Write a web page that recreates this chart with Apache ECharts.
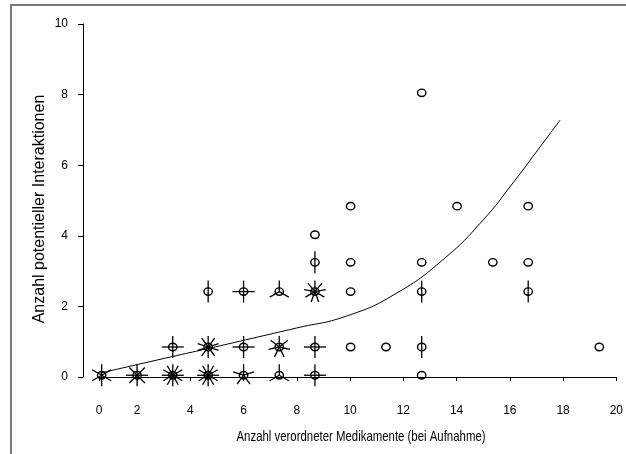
<!DOCTYPE html>
<html>
<head>
<meta charset="utf-8">
<script src="https://cdn.jsdelivr.net/npm/echarts@6/dist/echarts.min.js"></script>
<style>
  html, body { margin: 0; padding: 0; background: #fff; }
  #chart { width: 626px; height: 454px; }
</style>
</head>
<body>
<div id="chart"></div>
<script>
// Sunflower plot: each bin centre gets a circle, and a bin holding n > 1 cases gets n petals.
const sunX = [0.67, 2.0, 3.34, 3.34, 4.67, 4.67, 4.67, 6.0, 6.0, 6.0, 7.34, 7.34, 7.34,
              8.68, 8.68, 8.68, 8.68, 8.68, 10.02, 10.02, 10.02, 10.02, 11.35,
              12.69, 12.69, 12.69, 12.69, 12.69, 14.02, 15.36, 16.69, 16.69, 16.69, 19.36];
const sunY = [0.05, 0.05, 0.05, 0.85, 0.05, 0.85, 2.42, 0.05, 0.85, 2.42, 0.05, 0.85, 2.42,
              0.05, 0.85, 2.42, 3.25, 4.03, 0.85, 2.42, 3.25, 4.84, 0.85,
              0.05, 0.85, 2.42, 3.25, 8.05, 4.84, 3.25, 2.42, 3.25, 4.84, 0.85];
const sunCount = [6, 8, 12, 4, 12, 10, 2, 5, 4, 4, 3, 7, 3,
                  4, 4, 9, 2, 1, 1, 1, 1, 1, 1,
                  1, 2, 2, 1, 1, 1, 1, 2, 1, 1, 1];

// Fitted trend curve
const fitX = [0.61, 3.27, 4.63, 6.52, 8.0, 9.84, 11.69, 13.53, 15.0, 16.12, 16.97, 17.89];
const fitY = [0.11, 0.57, 0.80, 1.13, 1.39, 1.72, 2.35, 3.35, 4.45, 5.50, 6.35, 7.28];

// Axis ticks
const xTicks = [0.57, 2, 4, 6, 8, 10, 12, 14, 16, 18, 20];
const xTickLabels = ['0', '2', '4', '6', '8', '10', '12', '14', '16', '18', '20'];
const yTicks = [0, 2, 4, 6, 8, 10];

const xTitle = 'Anzahl verordneter Medikamente (bei Aufnahme)';
const yTitle = 'Anzahl potentieller Interaktionen';

const sunData = sunX.map((x, i) => [x, sunY[i], sunCount[i]]);
const fitData = fitX.map((x, i) => [x, fitY[i]]);

const chart = echarts.init(document.getElementById('chart'), null, { renderer: 'canvas' });

const tickFont = { fontFamily: 'Liberation Sans', fontSize: 12, color: '#000' };

chart.setOption({
  backgroundColor: '#fff',
  animation: false,
  grid: { left: 99, right: 1, top: 24, bottom: 77, containLabel: false },
  xAxis: {
    type: 'value',
    min: xTicks[0],
    max: xTicks[xTicks.length - 1],
    offset: 20,
    splitLine: { show: false },
    axisLine: { show: true, lineStyle: { color: '#000', width: 1 } },
    axisTick: { show: true, length: 4, lineStyle: { color: '#000' }, customValues: xTicks },
    axisLabel: {
      ...tickFont, margin: 8, customValues: xTicks,
      formatter: v => xTickLabels[xTicks.indexOf(v)]
    }
  },
  yAxis: {
    type: 'value',
    min: yTicks[0],
    max: yTicks[yTicks.length - 1],
    interval: 2,
    offset: 16,
    splitLine: { show: false },
    axisLine: { show: true, lineStyle: { color: '#000', width: 1 } },
    axisTick: { show: true, length: 5, lineStyle: { color: '#000' } },
    axisLabel: { ...tickFont, margin: 15 }
  },
  graphic: [
    { type: 'line', shape: { x1: 10, y1: 5, x2: 626, y2: 5 }, style: { stroke: '#7a7a7a', lineWidth: 2 } },
    { type: 'line', shape: { x1: 11, y1: 5, x2: 11, y2: 454 }, style: { stroke: '#7a7a7a', lineWidth: 2 } },
    // axis titles; the x title is set in a condensed cut
    {
      type: 'text', x: 361, y: 437, scaleX: 0.76,
      style: { text: xTitle, font: '15px "Liberation Sans"', fill: '#000', align: 'center', verticalAlign: 'middle' }
    },
    {
      type: 'text', x: 40, y: 209, rotation: Math.PI / 2,
      style: { text: yTitle, font: '16px "Liberation Sans"', fill: '#000', align: 'center', verticalAlign: 'middle' }
    }
  ],
  series: [
    {
      type: 'line',
      data: fitData,
      smooth: true,
      showSymbol: false,
      symbol: 'none',
      lineStyle: { color: '#000', width: 1 },
      z: 2
    },
    {
      type: 'custom',
      data: sunData,
      z: 3,
      renderItem: (params, api) => {
        const c = api.coord([api.value(0), api.value(1)]);
        const n = api.value(2);
        const children = [];
        const L = 11;
        if (n > 1) {
          for (let i = 0; i < n; i++) {
            const a = Math.PI / 2 + i * 2 * Math.PI / n;
            children.push({
              type: 'line',
              shape: { x1: c[0], y1: c[1], x2: c[0] + L * Math.cos(a), y2: c[1] - L * Math.sin(a) },
              style: { stroke: '#000', lineWidth: 1.3 }
            });
          }
        }
        children.push({
          type: 'ellipse',
          shape: { cx: c[0], cy: c[1], rx: 4.2, ry: 3.7 },
          style: { stroke: '#000', fill: 'none', lineWidth: 1.4 }
        });
        return { type: 'group', children };
      }
    }
  ]
});
</script>
</body>
</html>
